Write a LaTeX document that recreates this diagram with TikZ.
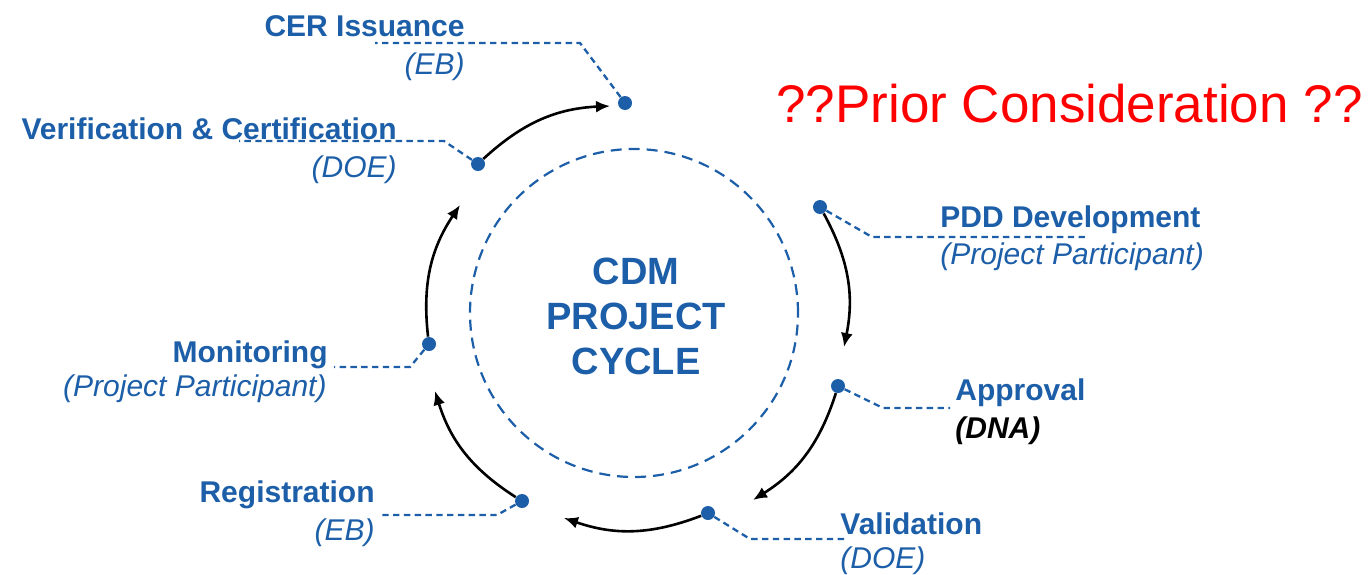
\documentclass[tikz,border=0pt]{standalone}
\usepackage{fontspec}
\setmainfont{Liberation Sans}
\usetikzlibrary{arrows.meta}
\definecolor{cdmblue}{RGB}{28,94,168}
\definecolor{alertred}{RGB}{255,0,0}
\begin{document}
\begin{tikzpicture}[x=0.5pt,y=-0.5pt,
  lbl/.style={inner sep=0pt, text=cdmblue, font=\fontsize{15}{18}\selectfont\bfseries},
  sub/.style={inner sep=0pt, text=cdmblue, font=\fontsize{15}{18}\selectfont\itshape},
  dot/.style={circle, fill=cdmblue, inner sep=0pt, minimum size=7pt},
  leader/.style={draw=cdmblue, line width=1.15pt, dash pattern=on 3.2pt off 2.2pt},
  flow/.style={draw=black, line width=1.3pt, -{Latex[length=7pt,width=6pt]}, bend left=20},
]
\useasboundingbox (0,0) rectangle (1369,574);

% central dashed circle and title
\node[circle, draw=cdmblue, line width=1.1pt, dash pattern=on 5.5pt off 3.5pt,
      minimum size=164pt, inner sep=0pt] (ring) at (634,313) {};
\node[inner sep=0pt, text=cdmblue, align=center,
      font=\fontsize{19}{22.5}\selectfont\bfseries] (title) at (636,316)
      {CDM\\PROJECT\\CYCLE};

% stage dots
\node[dot] (cer) at (625,103) {};
\node[dot] (ver) at (478,164) {};
\node[dot] (pdd) at (820,207) {};
\node[dot] (app) at (838,386) {};
\node[dot] (val) at (708,513) {};
\node[dot] (reg) at (522,501) {};
\node[dot] (mon) at (429,344) {};

% leaders
\draw[leader] (cer) -- (580,43) -- (375,43);
\draw[leader] (ver) -- (444,141) -- (239,141);
\draw[leader] (pdd) -- (872,237) -- (1089,237);
\draw[leader] (app) -- (883,408) -- (950,408);
\draw[leader] (val) -- (750,539) -- (848,539);
\draw[leader] (reg) -- (497,515) -- (380,515);
\draw[leader] (mon) -- (410,367) -- (334,367);

% labels
\node[lbl, anchor=base east] (cerT) at (465,36) {CER Issuance};
\node[sub, anchor=base east] (cerS) at (465,74) {(EB)};
\node[lbl, anchor=base east] (verT) at (397,139) {Verification \& Certification};
\node[sub, anchor=base east] (verS) at (397,177) {(DOE)};
\node[lbl, anchor=base west] (pddT) at (940,227) {PDD Development};
\node[sub, anchor=base west] (pddS) at (940,264) {(Project Participant)};
\node[lbl, anchor=base west] (appT) at (955,400) {Approval};
\node[inner sep=0pt, anchor=base west, text=black,
      font=\fontsize{15}{18}\selectfont\bfseries\itshape] (appS) at (955,438) {(DNA)};
\node[lbl, anchor=base west] (valT) at (840,534) {Validation};
\node[sub, anchor=base west] (valS) at (840,568) {(DOE)};
\node[lbl, anchor=base east] (regT) at (375,502) {Registration};
\node[sub, anchor=base east] (regS) at (375,540) {(EB)};
\node[lbl, anchor=base east] (monT) at (328,362) {Monitoring};
\node[sub, anchor=base east] (monS) at (327,396) {(Project Participant)};

\node[inner sep=0pt, anchor=base west, text=alertred,
      font=\fontsize{26.5}{30}\selectfont] (prior) at (776,122) {??Prior Consideration ??};

% flow arrows
\coordinate (t1) at (844,347);
\coordinate (t2) at (753,500);
\coordinate (t3) at (564,518);
\coordinate (t4) at (435,391);
\coordinate (t5) at (460,205);
\coordinate (t6) at (610,106);
\draw[flow] (pdd) to (t1);
\draw[flow] (app) to (t2);
\draw[flow] (val) to (t3);
\draw[flow] (reg) to (t4);
\draw[flow] (mon) to (t5);
\draw[flow] (ver) to (t6);
\end{tikzpicture}
\end{document}
